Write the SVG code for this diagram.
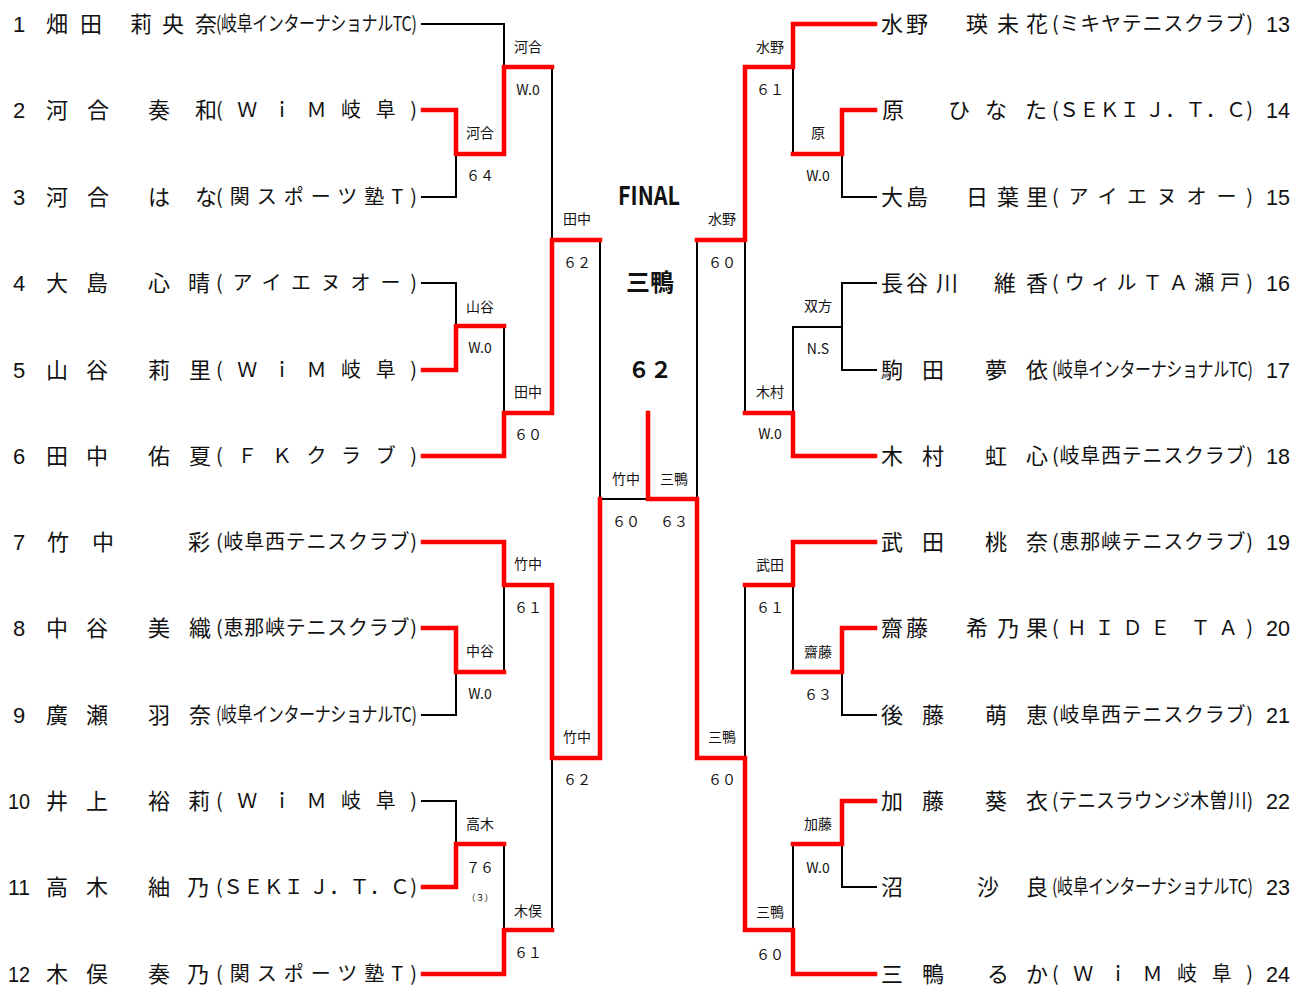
<svg xmlns="http://www.w3.org/2000/svg" width="1293" height="986" viewBox="0 0 1293 986">
<style>
text{font-family:"Noto Sans CJK JP","Noto Sans",sans-serif;fill:#111}
.n{font-size:22px}
.c{font-size:20px}
.no{font-family:"Liberation Sans",Arial,sans-serif;font-size:22px}
.l{font-size:14px;text-anchor:middle}
.sm{font-size:9px;text-anchor:middle}
.b{fill:none;stroke:#000;stroke-width:2}
.r{fill:none;stroke:#f00;stroke-width:4.5;stroke-linecap:square;stroke-linejoin:miter}
.t{font-weight:bold;text-anchor:middle}
</style>
<rect width="1293" height="986" fill="#fff"/>
<g id="connectors">
<g id="lines-black">
<path class="b" d="M421,24H504V67"/>
<path class="b" d="M421,197H456V154"/>
<path class="b" d="M421,283H456V326"/>
<path class="b" d="M504,326V413"/>
<path class="b" d="M552,67V240"/>
<path class="b" d="M600,240V499H648"/>
<path class="b" d="M421,715H456V672"/>
<path class="b" d="M504,672V585"/>
<path class="b" d="M421,801H456V844"/>
<path class="b" d="M504,844V930"/>
<path class="b" d="M552,930V758"/>
<path class="b" d="M877,197H842V154"/>
<path class="b" d="M793,154V67"/>
<path class="b" d="M745,240V413"/>
<path class="b" d="M697,240V499"/>
<path class="b" d="M877,283H842V370H877"/>
<path class="b" d="M842,327H793V413"/>
<path class="b" d="M793,585V672"/>
<path class="b" d="M877,715H842V672"/>
<path class="b" d="M745,585V758"/>
<path class="b" d="M877,887H842V844"/>
<path class="b" d="M793,844V930"/>
</g>
<g id="lines-red">
<path class="r" d="M423,110H456V154H504V67H552"/>
<path class="r" d="M423,370H456V326H504"/>
<path class="r" d="M423,456H504V413H552V240H600"/>
<path class="r" d="M423,542H504V585H552V758H600V499"/>
<path class="r" d="M423,628H456V672H504"/>
<path class="r" d="M423,887H456V844H504"/>
<path class="r" d="M423,974H504V930H552"/>
<path class="r" d="M875,24H793V67H745V240H697"/>
<path class="r" d="M875,110H842V154H793"/>
<path class="r" d="M875,456H793V413H745"/>
<path class="r" d="M875,542H793V585H745"/>
<path class="r" d="M875,628H842V672H793"/>
<path class="r" d="M875,801H842V844H793"/>
<path class="r" d="M875,974H793V930H745V758H697V499H648V413"/>
</g>
</g>
<g id="p1"><text class="no" x="13" y="32">1</text><text class="n" x="46 80 105 130 162 195" y="32">畑田　莉央奈</text><text class="c" transform="translate(216,31) scale(0.8,1)" x="0" y="0" textLength="251" lengthAdjust="spacing">(岐阜インターナショナルTC)</text></g>
<g id="p2"><text class="no" x="13" y="118">2</text><text class="n" x="46 87 120 148 195" y="118">河合　奏和</text><text class="c" x="216" y="117" textLength="201" lengthAdjust="spacing">(ＷｉＭ岐阜)</text></g>
<g id="p3"><text class="no" x="13" y="205">3</text><text class="n" x="46 87 120 148 195" y="205">河合　はな</text><text class="c" x="216" y="204" textLength="201" lengthAdjust="spacing">(関スポーツ塾T)</text></g>
<g id="p4"><text class="no" x="13" y="291">4</text><text class="n" x="46 86 120 148 188" y="291">大島　心晴</text><text class="c" x="216" y="290" textLength="201" lengthAdjust="spacing">(アイエヌオー)</text></g>
<g id="p5"><text class="no" x="13" y="378">5</text><text class="n" x="46 86 120 148 189" y="378">山谷　莉里</text><text class="c" x="216" y="377" textLength="201" lengthAdjust="spacing">(ＷｉＭ岐阜)</text></g>
<g id="p6"><text class="no" x="13" y="464">6</text><text class="n" x="46 86 120 148 189" y="464">田中　佑夏</text><text class="c" x="216" y="463" textLength="201" lengthAdjust="spacing">(ＦＫクラブ)</text></g>
<g id="p7"><text class="no" x="13" y="550">7</text><text class="n" x="47 92 140 188" y="550">竹中　彩</text><text class="c" x="216" y="549" textLength="201" lengthAdjust="spacing">(岐阜西テニスクラブ)</text></g>
<g id="p8"><text class="no" x="13" y="636">8</text><text class="n" x="46 86 120 148 189" y="636">中谷　美織</text><text class="c" x="216" y="635" textLength="201" lengthAdjust="spacing">(恵那峡テニスクラブ)</text></g>
<g id="p9"><text class="no" x="13" y="723">9</text><text class="n" x="46 86 120 148 189" y="723">廣瀬　羽奈</text><text class="c" transform="translate(216,722) scale(0.8,1)" x="0" y="0" textLength="251" lengthAdjust="spacing">(岐阜インターナショナルTC)</text></g>
<g id="p10"><text class="no" x="8" y="809" textLength="22" lengthAdjust="spacingAndGlyphs">10</text><text class="n" x="46 86 120 148 188" y="809">井上　裕莉</text><text class="c" x="216" y="808" textLength="201" lengthAdjust="spacing">(ＷｉＭ岐阜)</text></g>
<g id="p11"><text class="no" x="8" y="895" textLength="22" lengthAdjust="spacingAndGlyphs">11</text><text class="n" x="46 86 120 148 187" y="895">高木　紬乃</text><text class="c" x="216" y="894" textLength="201" lengthAdjust="spacing">(ＳＥＫＩ Ｊ．Ｔ．Ｃ)</text></g>
<g id="p12"><text class="no" x="8" y="982" textLength="22" lengthAdjust="spacingAndGlyphs">12</text><text class="n" x="46 86 120 148 187" y="982">木俣　奏乃</text><text class="c" x="216" y="981" textLength="201" lengthAdjust="spacing">(関スポーツ塾T)</text></g>
<g id="p13"><text class="n" x="881 906 936 966 997 1026" y="32">水野　瑛未花</text><text class="c" x="1052" y="31" textLength="201" lengthAdjust="spacing">(ミキヤテニスクラブ)</text><text class="no" x="1266" y="32" textLength="24" lengthAdjust="spacingAndGlyphs">13</text></g>
<g id="p14"><text class="n" x="882 915 948 985 1025" y="118">原　ひなた</text><text class="c" x="1052" y="117" textLength="201" lengthAdjust="spacing">(ＳＥＫＩ Ｊ．Ｔ．Ｃ)</text><text class="no" x="1266" y="118" textLength="24" lengthAdjust="spacingAndGlyphs">14</text></g>
<g id="p15"><text class="n" x="881 906 936 966 997 1026" y="205">大島　日葉里</text><text class="c" x="1052" y="204" textLength="201" lengthAdjust="spacing">(アイエヌオー)</text><text class="no" x="1266" y="205" textLength="24" lengthAdjust="spacingAndGlyphs">15</text></g>
<g id="p16"><text class="n" x="881 906 936 965 994 1026" y="291">長谷川　維香</text><text class="c" x="1052" y="290" textLength="201" lengthAdjust="spacing">(ウィルＴＡ瀬戸)</text><text class="no" x="1266" y="291" textLength="24" lengthAdjust="spacingAndGlyphs">16</text></g>
<g id="p17"><text class="n" x="881 922 955 985 1026" y="378">駒田　夢依</text><text class="c" transform="translate(1052,377) scale(0.8,1)" x="0" y="0" textLength="251" lengthAdjust="spacing">(岐阜インターナショナルTC)</text><text class="no" x="1266" y="378" textLength="24" lengthAdjust="spacingAndGlyphs">17</text></g>
<g id="p18"><text class="n" x="881 922 955 985 1026" y="464">木村　虹心</text><text class="c" x="1052" y="463" textLength="201" lengthAdjust="spacing">(岐阜西テニスクラブ)</text><text class="no" x="1266" y="464" textLength="24" lengthAdjust="spacingAndGlyphs">18</text></g>
<g id="p19"><text class="n" x="881 922 955 985 1026" y="550">武田　桃奈</text><text class="c" x="1052" y="549" textLength="201" lengthAdjust="spacing">(恵那峡テニスクラブ)</text><text class="no" x="1266" y="550" textLength="24" lengthAdjust="spacingAndGlyphs">19</text></g>
<g id="p20"><text class="n" x="881 906 936 966 997 1026" y="636">齋藤　希乃果</text><text class="c" x="1052" y="635" textLength="201" lengthAdjust="spacing">(ＨＩＤＥ ＴＡ)</text><text class="no" x="1266" y="636" textLength="24" lengthAdjust="spacingAndGlyphs">20</text></g>
<g id="p21"><text class="n" x="881 922 955 985 1026" y="723">後藤　萌恵</text><text class="c" x="1052" y="722" textLength="201" lengthAdjust="spacing">(岐阜西テニスクラブ)</text><text class="no" x="1266" y="723" textLength="24" lengthAdjust="spacingAndGlyphs">21</text></g>
<g id="p22"><text class="n" x="881 922 955 985 1026" y="809">加藤　葵衣</text><text class="c" transform="translate(1052,808) scale(0.94,1)" x="0" y="0" textLength="214" lengthAdjust="spacing">(テニスラウンジ木曽川)</text><text class="no" x="1266" y="809" textLength="24" lengthAdjust="spacingAndGlyphs">22</text></g>
<g id="p23"><text class="n" x="881 930 977 1026" y="895">沼　沙良</text><text class="c" transform="translate(1052,894) scale(0.8,1)" x="0" y="0" textLength="251" lengthAdjust="spacing">(岐阜インターナショナルTC)</text><text class="no" x="1266" y="895" textLength="24" lengthAdjust="spacingAndGlyphs">23</text></g>
<g id="p24"><text class="n" x="881 922 955 987 1026" y="982">三鴨　るか</text><text class="c" x="1052" y="981" textLength="201" lengthAdjust="spacing">(ＷｉＭ岐阜)</text><text class="no" x="1266" y="982" textLength="24" lengthAdjust="spacingAndGlyphs">24</text></g>
<g id="final">
<text class="t" x="649" y="205" font-size="26" textLength="62" lengthAdjust="spacingAndGlyphs">FINAL</text>
<text class="t" x="650" y="291" font-size="24">三鴨</text>
<text class="t" x="650" y="378" font-size="22">６２</text>
</g>
<g id="results">
<text class="l" x="528" y="52">河合</text><text class="l" x="528" y="95">W.0</text>
<text class="l" x="480" y="138">河合</text><text class="l" x="480" y="181">６４</text>
<text class="l" x="480" y="312">山谷</text><text class="l" x="480" y="353">W.0</text>
<text class="l" x="528" y="397">田中</text><text class="l" x="528" y="440">６０</text>
<text class="l" x="577" y="224">田中</text><text class="l" x="577" y="268">６２</text>
<text class="l" x="528" y="569">竹中</text><text class="l" x="528" y="613">６１</text>
<text class="l" x="480" y="656">中谷</text><text class="l" x="480" y="699">W.0</text>
<text class="l" x="480" y="829">高木</text><text class="l" x="480" y="873">７６</text><text class="sm" x="480" y="901">（３）</text>
<text class="l" x="528" y="916">木俣</text><text class="l" x="528" y="958">６１</text>
<text class="l" x="577" y="742">竹中</text><text class="l" x="577" y="785">６２</text>
<text class="l" x="626" y="484">竹中</text><text class="l" x="674" y="484">三鴨</text>
<text class="l" x="626" y="527">６０</text><text class="l" x="674" y="527">６３</text>
<text class="l" x="722" y="224">水野</text><text class="l" x="722" y="268">６０</text>
<text class="l" x="770" y="52">水野</text><text class="l" x="770" y="95">６１</text>
<text class="l" x="818" y="138">原</text><text class="l" x="818" y="181">W.0</text>
<text class="l" x="818" y="311">双方</text><text class="l" x="818" y="354">N.S</text>
<text class="l" x="770" y="397">木村</text><text class="l" x="770" y="439">W.0</text>
<text class="l" x="722" y="742">三鴨</text><text class="l" x="722" y="785">６０</text>
<text class="l" x="770" y="570">武田</text><text class="l" x="770" y="613">６１</text>
<text class="l" x="818" y="657">齋藤</text><text class="l" x="818" y="700">６３</text>
<text class="l" x="818" y="829">加藤</text><text class="l" x="818" y="873">W.0</text>
<text class="l" x="770" y="917">三鴨</text><text class="l" x="770" y="960">６０</text>
</g>
</svg>
